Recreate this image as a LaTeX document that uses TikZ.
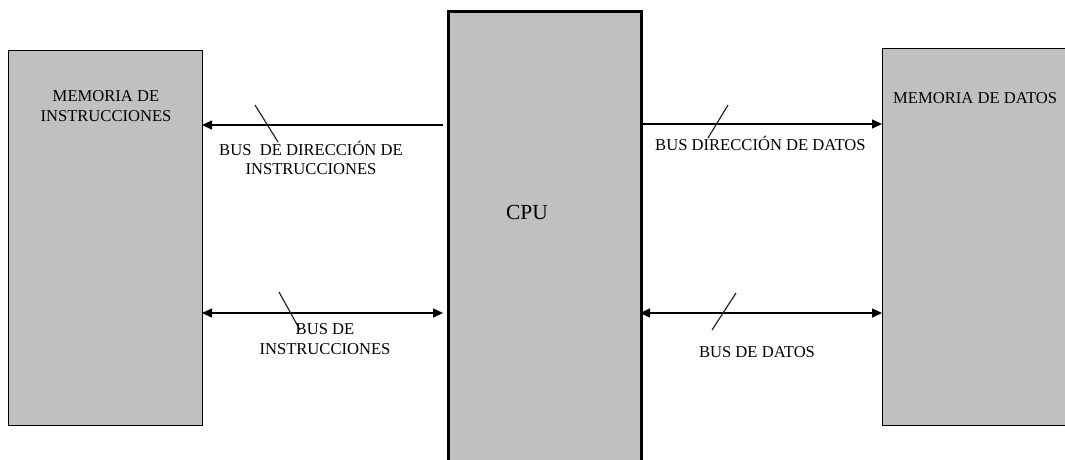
\documentclass[tikz,border=0pt]{standalone}
\usepackage{fontspec}
\setmainfont{Liberation Serif}
\usetikzlibrary{arrows.meta}
\begin{document}
\begin{tikzpicture}[x=1pt,y=-1pt,
  unit/.style={draw=black,line width=1.4pt,fill=boxgray,inner sep=0pt,anchor=north west},
  bus/.style={line width=1.4pt,-{Triangle[length=10pt,width=9pt]}},
  dbus/.style={line width=1.4pt,{Triangle[length=10pt,width=9pt]}-{Triangle[length=10pt,width=9pt]}},
  tick/.style={line width=1.2pt,draw=black!85},
  lbl/.style={font=\fontsize{16.6}{19.5}\selectfont,align=center,inner sep=0pt}]
\definecolor{boxgray}{HTML}{C0C0C0}
\useasboundingbox (0,0) rectangle (1065,459);
\begin{scope}
\clip (0,0) rectangle (1065,459);
% memory and processor blocks
\node[unit,minimum width=194pt,minimum height=375pt] (mi) at (8,50) {};
\node[unit,line width=3pt,minimum width=193pt,minimum height=460pt] (cpu) at (447,10) {};
\node[unit,minimum width=200pt,minimum height=377pt] (md) at (882,48) {};
\end{scope}
% anchor points of the buses on each block
\coordinate (cL1) at (443,125);
\coordinate (mI1) at (202,125);
\coordinate (cR1) at (640,124);
\coordinate (mD1) at (882,124);
\coordinate (cL2) at (443,313);
\coordinate (mI2) at (202,313);
\coordinate (cR2) at (640,313);
\coordinate (mD2) at (882,313);
% buses
\draw[bus] (cL1) -- (mI1);
\draw[bus] (cR1) -- (mD1);
\draw[dbus] (mI2) -- (cL2);
\draw[dbus] (cR2) -- (mD2);
% bus width marks
\coordinate (t1a) at (255,105); \coordinate (t1b) at (278,142);
\coordinate (t2a) at (728,105); \coordinate (t2b) at (708,138);
\coordinate (t3a) at (279,292); \coordinate (t3b) at (300,330);
\coordinate (t4a) at (736,293); \coordinate (t4b) at (712,330);
\draw[tick] (t1a) -- (t1b);
\draw[tick] (t2a) -- (t2b);
\draw[tick] (t3a) -- (t3b);
\draw[tick] (t4a) -- (t4b);
% labels
\node[lbl] (tmi) at (106,106) {MEMORIA DE\\INSTRUCCIONES};
\node[lbl,anchor=west] (tmd) at (893,98) {MEMORIA DE DATOS};
\node[lbl,font=\fontsize{21.5}{24}\selectfont] (tcpu) at (527,212) {CPU};
\node[lbl] (b1) at (311,158) {BUS\ \ DE DIRECCIÓN DE\\INSTRUCCIONES};
\node[lbl,anchor=west] (b2) at (655,143) {BUS DIRECCIÓN DE DATOS};
\node[lbl] (b3) at (325,339) {BUS DE\\INSTRUCCIONES};
\node[lbl] (b4) at (757,352) {BUS DE DATOS};
\end{tikzpicture}
\end{document}
